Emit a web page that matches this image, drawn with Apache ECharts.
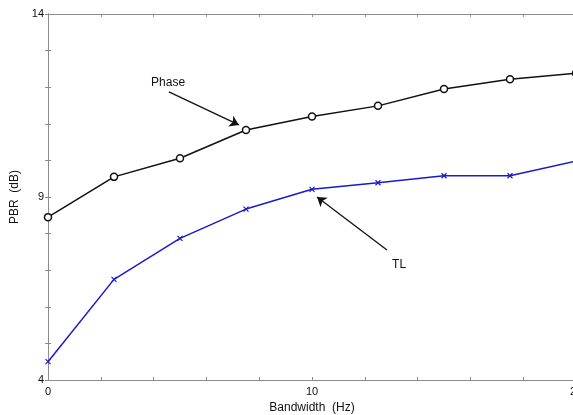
<!DOCTYPE html>
<html>
<head>
<meta charset="utf-8">
<script src="https://cdn.jsdelivr.net/npm/echarts@6/dist/echarts.min.js"></script>
<style>html,body{margin:0;padding:0;background:#fff;overflow:hidden;}#c{width:573px;height:415px;}</style>
</head>
<body>
<div id="c"></div>
<script>
const bandwidth = [0, 2.5, 5, 7.5, 10, 12.5, 15, 17.5, 20];
const phase = [8.45, 9.55, 10.06, 10.83, 11.2, 11.49, 11.95, 12.22, 12.38];
const tl = [4.5, 6.75, 7.87, 8.67, 9.21, 9.39, 9.58, 9.58, 9.98];
const xLabels = [0, 10, 20];
const yLabels = [4, 9, 14];
const phaseArrow = [[4.58, 11.87], [7.23, 10.97]];
const tlArrow = [[12.84, 7.55], [10.19, 9.0]];
const phaseText = [4.55, 12.13];
const tlText = [13.3, 7.15];

const FONT = '"Liberation Sans", Arial, sans-serif';
const axisCol = '#8c8c8c';
const chart = echarts.init(document.getElementById('c'), null, {renderer: 'canvas'});

function pairs(xs, ys) { return xs.map((x, i) => [x, ys[i]]); }

const commonAxis = {
  axisLine: {show: true, lineStyle: {color: axisCol, width: 1}},
  axisTick: {show: true, inside: true, length: 3, lineStyle: {color: axisCol}},
  splitLine: {show: false}
};

chart.setOption({
  animation: false,
  backgroundColor: '#fff',
  grid: {left: 48, top: 14, width: 528, height: 366, containLabel: false, outerBoundsMode: 'none'},
  xAxis: [
    Object.assign({}, commonAxis, {
      type: 'value', min: 0, max: 20, interval: 2, position: 'bottom',
      name: 'Bandwidth  (Hz)', nameLocation: 'middle', nameGap: 18,
      nameTextStyle: {fontFamily: FONT, fontSize: 12, color: '#111'},
      axisLabel: {margin: 6, fontFamily: FONT, fontSize: 11, color: '#111',
        formatter: v => xLabels.includes(v) ? String(v) : ''}
    }),
    Object.assign({}, commonAxis, {
      type: 'value', min: 0, max: 20, interval: 2, position: 'top',
      axisLabel: {show: false}
    })
  ],
  yAxis: [
    Object.assign({}, commonAxis, {
      type: 'value', min: 4, max: 14, interval: 1, position: 'left',
      name: 'PBR  (dB)', nameLocation: 'middle', nameGap: 23,
      nameTextStyle: {fontFamily: FONT, fontSize: 12, color: '#111'},
      axisLabel: {margin: 4, fontFamily: FONT, fontSize: 11, color: '#111',
        formatter: v => yLabels.includes(v) ? String(v) : ''}
    }),
    Object.assign({}, commonAxis, {
      type: 'value', min: 4, max: 14, interval: 1, position: 'right',
      axisLabel: {show: false}
    })
  ],
  series: [
    {
      type: 'line', name: 'Phase', data: pairs(bandwidth, phase),
      symbol: 'circle', symbolSize: 7, showAllSymbol: true,
      lineStyle: {color: '#111', width: 1.5},
      itemStyle: {color: '#fff', borderColor: '#111', borderWidth: 1.5},
      emphasis: {disabled: true},
      markLine: {
        silent: true, symbol: ['none', 'arrow'], symbolSize: 9,
        lineStyle: {color: '#111', width: 1.3, type: 'solid'},
        label: {show: false},
        data: [[{coord: phaseArrow[0]}, {coord: phaseArrow[1]}]]
      },
      markPoint: {
        silent: true, symbol: 'circle', symbolSize: 0,
        label: {show: true, formatter: 'Phase', fontFamily: FONT, fontSize: 12, color: '#111', position: 'inside'},
        data: [{coord: phaseText}]
      }
    },
    {
      type: 'line', name: 'TL', data: pairs(bandwidth, tl),
      symbol: 'path://M0,0L10,10M10,0L0,10', symbolSize: 5, showAllSymbol: true,
      lineStyle: {color: '#1a1acc', width: 1.5},
      itemStyle: {color: '#1a1acc', borderColor: '#1a1acc', borderWidth: 1.2},
      emphasis: {disabled: true},
      markLine: {
        silent: true, symbol: ['none', 'arrow'], symbolSize: 9,
        lineStyle: {color: '#111', width: 1.3, type: 'solid'},
        label: {show: false},
        data: [[{coord: tlArrow[0]}, {coord: tlArrow[1]}]]
      },
      markPoint: {
        silent: true, symbol: 'circle', symbolSize: 0,
        label: {show: true, formatter: 'TL', fontFamily: FONT, fontSize: 12, color: '#111', position: 'inside'},
        data: [{coord: tlText}]
      }
    }
  ]
});
</script>
</body>
</html>
